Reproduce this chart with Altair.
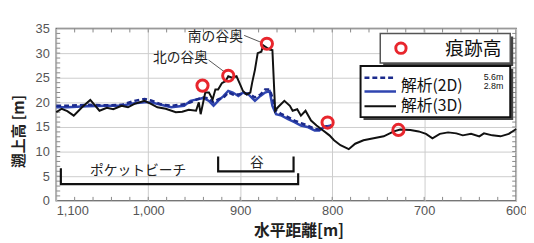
import altair as alt
import pandas as pd

# ---- data ----
dist_3d = [1100, 1094, 1088, 1081, 1072, 1063, 1053, 1045, 1038, 1029, 1022, 1015, 1004, 997, 990,
           981, 970, 963, 956, 948, 945, 943, 938, 934, 930, 927, 924, 920, 916, 913, 909, 904,
           900, 897, 893, 889, 887, 884, 881, 877, 875, 871, 868, 865, 862, 859, 852, 846, 843,
           838, 834, 829, 823, 817, 812, 803, 798, 791, 782, 775, 766, 755, 744, 733, 726, 715,
           706, 698, 691, 683, 674, 665, 658, 649, 640, 635, 626, 617, 608, 600]
h_3d = [18.0, 18.7, 18.2, 17.3, 19.0, 20.5, 18.3, 18.9, 18.6, 19.3, 19.0, 19.7, 20.3, 19.7, 19.0,
        18.7, 18.0, 18.1, 18.5, 18.3, 20.0, 17.6, 22.0, 22.0, 20.6, 22.6, 22.6, 23.9, 24.3, 25.3,
        25.0, 25.3, 23.6, 22.3, 21.6, 22.0, 24.0, 26.6, 30.0, 30.3, 31.6, 31.1, 30.7, 30.6, 18.3,
        19.0, 20.3, 19.3, 18.3, 18.6, 17.3, 18.3, 16.3, 15.3, 14.6, 13.3, 12.3, 11.3, 10.5, 11.6,
        12.3, 12.7, 13.1, 14.1, 14.5, 14.4, 14.1, 13.6, 12.7, 13.6, 13.9, 13.7, 13.3, 13.6, 13.1,
        13.7, 13.3, 13.1, 13.6, 14.6]

dist_2d = [1100, 1088, 1067, 1045, 1029, 1015, 1004, 997, 986, 975, 961, 954, 947, 940, 934, 929,
           924, 918, 913, 908, 902, 897, 891, 884, 878, 873, 868, 865, 861, 855, 848, 841, 834,
           827, 819, 814, 809, 801]
h_2d_28 = [19.0, 19.0, 19.2, 19.3, 19.3, 19.8, 20.0, 20.0, 19.5, 19.0, 19.3, 20.3, 20.6, 20.9,
           20.3, 19.3, 20.3, 21.3, 22.3, 22.0, 21.3, 22.0, 21.6, 20.3, 21.3, 22.0, 22.3, 19.3,
           17.6, 17.3, 16.6, 16.0, 15.3, 15.0, 14.3, 14.3, 15.0, 15.3]
h_2d_56 = [19.3, 19.3, 19.5, 19.4, 19.5, 20.3, 20.7, 20.4, 19.6, 19.3, 19.6, 20.0, 20.6, 21.0,
           20.8, 20.0, 20.6, 21.0, 22.0, 21.6, 21.6, 21.8, 21.8, 21.0, 21.6, 22.6, 22.6, 21.0,
           18.3, 17.6, 17.0, 16.3, 15.8, 15.3, 14.6, 14.5, 15.0, 15.3]

trace_dist = [941, 913, 871, 805, 728]
trace_h = [23.4, 25.4, 31.9, 15.9, 14.4]

x_ticks = [1100, 1000, 900, 800, 700, 600]
y_ticks = [0, 5, 10, 15, 20, 25, 30, 35]
x_minor = list(range(620, 1100, 20))
y_minor = list(range(1, 35))

# annotations
ann_labels = ["南の谷奥", "北の谷奥", "ポケットビーチ", "谷"]
ann_d = [927, 965, 1011, 882]
ann_h = [33.2, 29.0, 6.0, 7.6]
lead_d1 = [895.7, 934.4]
lead_h1 = [33.6, 28.6]
lead_d2 = [877.4, 917.2]
lead_h2 = [32.2, 26.2]
br_group = ["p", "p", "p", "p", "v", "v", "v", "v"]
br_order = [0, 1, 2, 3, 0, 1, 2, 3]
br_d = [1095, 1095, 837, 837, 924, 924, 842, 842]
br_h = [6.6, 3.4, 3.4, 5.6, 9.0, 6.0, 6.0, 9.0]

W, H = 467, 175
JP = "Noto Sans CJK JP"
xs = alt.Scale(domain=[600, 1100], reverse=True, nice=False, zero=False)
ys = alt.Scale(domain=[0, 35], nice=False, zero=False)

x_axis = alt.Axis(
    values=x_ticks, format=",d", grid=True, gridColor="#cccccc", gridWidth=1,
    ticks=False, domain=False, labelFont="Liberation Sans", labelFontSize=13,
    labelColor="#555555", labelPadding=4,
    labelAlign={"condition": {"test": "datum.value == 1100", "value": "left"}, "value": "center"},
    title="水平距離[m]", titleFont=JP, titleFontSize=16, titleFontWeight="bold",
    titleColor="#222222", titleX=246, titleY=30, titleBaseline="middle", titleAlign="center")
y_axis = alt.Axis(
    values=y_ticks, grid=True, gridColor="#cccccc", gridWidth=1, ticks=False, domain=False,
    labelFont="Liberation Sans", labelFontSize=13, labelColor="#555555", labelPadding=7,
    title="遡上高 [m]", titleFont=JP, titleFontSize=15, titleFontWeight="bold",
    titleColor="#222222", titleX=-38, titleY=104, titleAngle=-90, titleAlign="center",
    titleBaseline="middle")


def X(f):
    return alt.X(f, scale=xs, axis=x_axis)


def Y(f):
    return alt.Y(f, scale=ys, axis=y_axis)


df3 = pd.DataFrame({"d": dist_3d, "h": h_3d})
df2 = pd.DataFrame({"d": dist_2d, "a": h_2d_28, "b": h_2d_56})
dft = pd.DataFrame({"d": trace_dist, "h": trace_h})
one = pd.DataFrame({"z": [0]})

xminor = alt.Chart(pd.DataFrame({"t": x_minor}))
yminor = alt.Chart(pd.DataFrame({"t": y_minor}))
tick_col = "#888888"
ticks = [
    xminor.mark_rule(color=tick_col).encode(x=X("t:Q"), y=alt.value(H), y2=alt.value(H - 4)),
    xminor.mark_rule(color=tick_col).encode(x=X("t:Q"), y=alt.value(0), y2=alt.value(4)),
    yminor.mark_rule(color=tick_col).encode(y=Y("t:Q"), x=alt.value(0), x2=alt.value(4)),
    yminor.mark_rule(color=tick_col).encode(y=Y("t:Q"), x=alt.value(W), x2=alt.value(W - 4)),
]

solid = alt.Chart(df2).mark_line(color="#2f45b0", strokeWidth=2.5).encode(x=X("d:Q"), y=Y("a:Q"))
dashed = alt.Chart(df2).mark_line(color="#1b2a8c", strokeWidth=2.5, strokeDash=[5, 3]).encode(
    x=X("d:Q"), y=Y("b:Q"))
black = alt.Chart(df3).mark_line(color="#111111", strokeWidth=2).encode(x=X("d:Q"), y=Y("h:Q"))
marks = alt.Chart(dft).mark_point(shape="circle", size=130, filled=False, color="#e8262d",
                                  strokeWidth=3, opacity=1).encode(x=X("d:Q"), y=Y("h:Q"))

ann = alt.Chart(pd.DataFrame({"t": ann_labels, "d": ann_d, "h": ann_h})).mark_text(
    font=JP, fontSize=14, color="#222222", align="center", baseline="middle").encode(
    x=X("d:Q"), y=Y("h:Q"), text="t:N")
leaders = alt.Chart(pd.DataFrame({"d": lead_d1, "h": lead_h1, "d2": lead_d2, "h2": lead_h2})).mark_rule(
    color="#555555", strokeWidth=1).encode(x=X("d:Q"), y=Y("h:Q"), x2="d2:Q", y2="h2:Q")
brackets = alt.Chart(pd.DataFrame({"g": br_group, "o": br_order, "d": br_d, "h": br_h})).mark_line(
    color="#111111", strokeWidth=2.2).encode(x=X("d:Q"), y=Y("h:Q"), detail="g:N", order="o:Q")


# ---- legend (pixel placement) ----
def box(x1, y1, x2, y2, stroke, sw):
    sh = alt.Chart(one).mark_rect(color="#444444").encode(
        x=alt.value(x1 + 3), x2=alt.value(x2 + 3), y=alt.value(y1 + 3), y2=alt.value(y2 + 3))
    b = alt.Chart(one).mark_rect(fill="white", stroke=stroke, strokeWidth=sw).encode(
        x=alt.value(x1), x2=alt.value(x2), y=alt.value(y1), y2=alt.value(y2))
    return [sh, b]


def txt(s, x, y, size, font=JP, align="left", weight="normal"):
    return alt.Chart(one).mark_text(text=s, font=font, fontSize=size, align=align,
                                    baseline="middle", color="#111111", fontWeight=weight).encode(
        x=alt.value(x), y=alt.value(y))


def seg(x1, x2, y, color, sw, dash=None):
    kw = dict(color=color, strokeWidth=sw)
    if dash:
        kw["strokeDash"] = dash
    return alt.Chart(one).mark_rule(**kw).encode(x=alt.value(x1), x2=alt.value(x2), y=alt.value(y))


legend = []
legend += box(329, 5, 461, 35, "#555555", 1.5)
legend.append(alt.Chart(one).mark_point(shape="circle", size=110, filled=False, color="#e8262d",
                                        strokeWidth=3, opacity=1).encode(x=alt.value(350), y=alt.value(20)))
legend.append(txt("痕跡高", 395, 21, 19))
legend += box(309, 38, 461, 90, "#111111", 2)
legend.append(seg(313, 345, 50, "#1b2a8c", 2.5, [5, 3]))
legend.append(seg(313, 345, 64, "#2f45b0", 2.5))
legend.append(seg(313, 345, 79, "#111111", 2))
legend.append(txt("解析(2D)", 350, 58, 16))
legend.append(txt("5.6m", 444, 49, 9, font="Liberation Sans", align="center"))
legend.append(txt("2.8m", 444, 58, 9, font="Liberation Sans", align="center"))
legend.append(txt("解析(3D)", 350, 79, 16))

chart = alt.layer(*ticks, solid, dashed, black, brackets, leaders, ann, marks, *legend).properties(
    width=W, height=H,
    autosize=alt.AutoSizeParams(type="none"),
    padding={"left": 49, "top": 19, "right": 10, "bottom": 41},
    background="white",
).configure_view(stroke="#666666", strokeWidth=1.5)

chart.save("out.html", embed_options={"renderer": "svg", "actions": False})
